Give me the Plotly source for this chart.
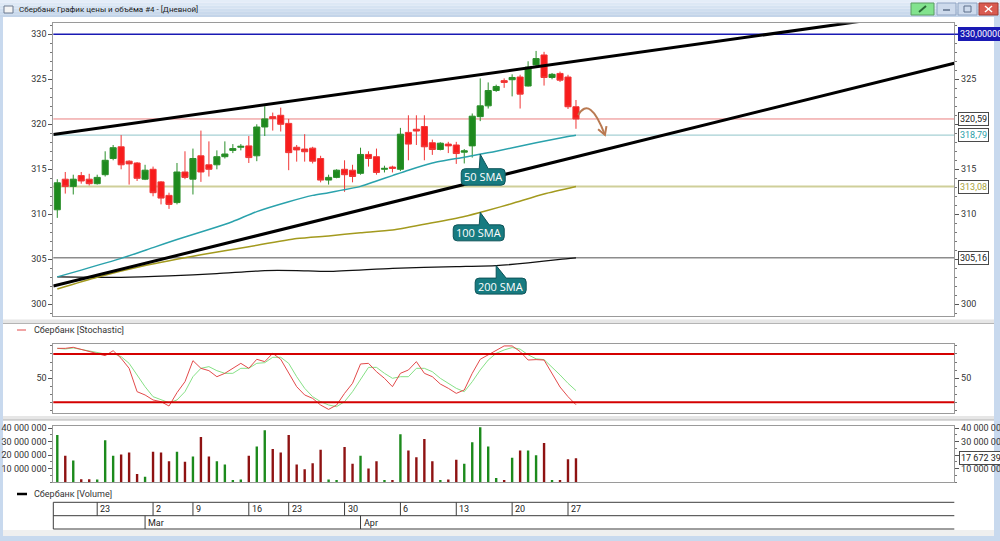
import plotly.graph_objects as go
import numpy as np

W, H = 1000, 541

# ---------------- data ----------------
bar_index = list(range(66))
opens = [310.5, 313.9, 313.1, 314.3, 313.9, 313.4, 314.4, 316.2, 317.5, 315.9,
         315.7, 313.9, 315.0, 313.6, 312.1, 311.3, 314.7, 313.9, 316.5, 315.5,
         315.5, 316.4, 317.1, 317.45, 317.6, 316.5, 319.7, 320.85, 321.0, 320.1,
         317.45, 317.25, 317.35, 316.2, 313.8, 314.1, 315.0, 314.9, 314.55, 316.65,
         316.4, 315.0, 315.25, 315.0, 319.1, 319.45, 319.75, 317.95, 317.2, 317.8,
         317.7, 316.9, 317.6, 320.85, 322.05, 323.75, 324.85, 324.95, 325.25, 324.25,
         326.6, 327.7, 325.2, 325.65, 325.25, 321.95]
highs = [313.9, 314.7, 314.4, 314.7, 314.5, 314.4, 317.0, 317.7, 318.8, 316.0,
         315.8, 315.5, 315.3, 313.7, 312.4, 315.7, 317.0, 317.3, 319.3, 318.1,
         317.1, 318.1, 317.8, 317.8, 318.7, 320.0, 322.0, 321.3, 321.85, 320.6,
         317.7, 318.9, 317.5, 316.5, 314.4, 315.0, 316.0, 315.5, 317.4, 317.0,
         317.3, 315.4, 315.4, 319.6, 321.0, 321.0, 321.0, 318.3, 318.0, 318.05,
         318.05, 317.25, 321.2, 325.1, 324.65, 324.4, 325.1, 325.55, 325.5, 327.0,
         328.15, 328.05, 325.7, 325.85, 325.5, 322.7]
lows = [309.6, 312.3, 312.2, 313.4, 313.2, 313.3, 314.2, 316.0, 315.0, 313.3,
        313.7, 313.8, 312.0, 311.1, 310.6, 311.1, 313.9, 312.2, 313.6, 314.2,
        315.0, 316.2, 316.8, 317.1, 315.7, 315.9, 318.7, 319.3, 319.2, 314.9,
        315.85, 315.85, 315.65, 313.55, 313.3, 314.0, 312.5, 313.55, 314.4, 315.3,
        314.4, 314.65, 314.65, 314.8, 316.0, 317.7, 316.0, 316.6, 317.1, 316.8,
        315.6, 315.65, 316.3, 320.35, 321.75, 323.6, 324.05, 323.1, 321.75, 324.2,
        326.35, 324.3, 325.0, 324.7, 321.7, 319.5]
closes = [313.5, 313.1, 313.9, 313.7, 313.4, 314.1, 316.0, 317.4, 315.5, 315.6,
          314.0, 314.9, 312.4, 311.8, 311.1, 314.7, 314.1, 316.2, 314.7, 315.0,
          316.4, 316.7, 317.3, 317.55, 316.3, 319.7, 320.6, 320.65, 320.0, 316.85,
          317.15, 316.95, 315.9, 313.8, 314.1, 314.9, 314.4, 314.2, 316.65, 316.2,
          314.65, 315.1, 315.1, 318.9, 317.8, 319.25, 317.5, 317.2, 317.9, 317.6,
          316.75, 317.05, 320.9, 322.05, 323.75, 324.2, 324.65, 325.2, 323.35, 326.35,
          327.3, 325.2, 325.55, 324.9, 321.95, 320.59]
volumes_mln = [35, 19.5, 16, 2, 2, 1.8, 31, 19.5, 20.5, 22,
               6, 4, 22.5, 22, 15.5, 22.5, 15, 19, 33.5, 19,
               15.5, 13, 1.5, 1.8, 19.5, 26.5, 38.5, 24.5, 22, 35,
               13, 9.5, 14, 24, 1.8, 1.5, 26, 13.5, 19.5, 10,
               15.5, 1.5, 1.5, 35.5, 23.5, 18.5, 32, 15.5, 1.5, 1.8,
               16.5, 13.5, 29.5, 40.8, 26.5, 3, 1.5, 18, 23.5, 23.5,
               20, 29, 1.5, 1.5, 17, 17.67239]
stoch_k = [87, 87, 88.3, 85.8, 83, 80.8, 77.9, 84.1, 74.6, 62.2,
           33.2, 29.1, 22.9, 20.8, 15.4, 32, 45.6, 71.7, 62.2, 59.3,
           51.8, 56, 62.2, 68.4, 62.2, 73.4, 70.5, 80.8, 73.4, 56,
           39.4, 29.1, 24.9, 16.6, 11.2, 16.6, 31.1, 43.6, 67.6, 68.4,
           58, 49.8, 39.4, 56, 60.1, 70.5, 56, 51.8, 42.7, 37.4,
           31.1, 35.3, 56, 73.4, 78.8, 85, 90, 90, 83, 72.5,
           73, 72.5, 56, 39, 27, 17]
stoch_d = [87, 86.2, 87.5, 85.8, 84.1, 81.7, 80, 80.8, 76.7, 68.4,
           53.9, 39.4, 27, 23.7, 19.5, 22.9, 33.2, 51.8, 62.2, 64.3,
           59.3, 56, 56, 62.2, 62.2, 68.4, 69.2, 75.9, 75.9, 68.4,
           51.8, 37.4, 27, 20.8, 16.7, 14.6, 20.8, 33.2, 48.5, 63.4,
           63.4, 56, 49.8, 51.8, 51.8, 62.2, 62.2, 58, 49.8, 43.6,
           37.4, 33.2, 45.6, 60.1, 72.5, 80.8, 85, 88, 86, 79,
           74, 73, 64, 54, 43.6, 34.5]

sma50_idx = [0, 3, 8, 12, 15, 19, 22, 25, 29, 32, 34, 38, 40, 42, 44, 47, 51, 55, 60, 64, 65]
sma50_val = [303.05, 303.8, 305.1, 306.3, 307.2, 308.3, 309.2, 310.3, 311.4, 312.1, 312.4,
             313.1, 313.7, 314.3, 314.9, 315.7, 316.35, 317.0, 317.95, 318.65, 318.79]
sma100_idx = [0, 5, 11, 18, 24, 30, 34, 38, 42, 47, 51, 54, 57, 61, 65]
sma100_val = [301.7, 303.0, 304.3, 305.5, 306.4, 307.3, 307.6, 307.95, 308.25, 309.05,
              309.75, 310.45, 311.2, 312.25, 313.08]
sma200_idx = [0, 8, 14, 20, 26, 30, 34, 42, 50, 55, 59, 63, 65]
sma200_val = [303.05, 303.0, 303.15, 303.4, 303.75, 303.75, 303.65, 304.0, 304.18,
              304.3, 304.6, 305.0, 305.16]

channel_upper_x = [-0.5, 112.4]
channel_upper_y = [318.87, 332.9]
channel_lower_x = [-0.5, 112.4]
channel_lower_y = [302.03, 326.78]

arrow_path_x = [65.27, 66.75, 68.63]      # start, control, end
arrow_path_y = [321.02, 323.26, 318.81]
arrow_head_x = [67.77, 68.63, 68.82]
arrow_head_y = [319.44, 318.81, 319.8]

level_values = [330.0, 320.59, 318.79, 313.08, 305.16]
level_labels = ["330,00000", "320,59", "318,79", "313,08", "305,16"]
level_line_colors = ["#1a1ab4", "#ea7f7f", "#a6d0d4", "#cfcf9a", "#8c8c8c"]
level_line_widths = [1.5, 1, 1.2, 2, 1.5]
level_text_colors = ["white", "#202020", "#2a9ea8", "#a8a23a", "#202020"]
level_bg_colors = ["#1a1ab4", "white", "white", "white", "white"]

stoch_levels = [80, 20]
price_ticks = [300, 305, 310, 315, 320, 325, 330]
price_tick_text = ["300", "305", "310", "315", "320", "325", "330"]
price_right_tick_text = ["300", "", "310", "315", "", "325", ""]   # others hidden behind value boxes
stoch_ticks = [50]
volume_ticks = [10e6, 20e6, 30e6, 40e6]
volume_tick_text = ["10 000 000", "20 000 000", "30 000 000", "40 000 000"]
volume_right_tick_text = ["10 000 000", "", "30 000 000", "40 000 000"]
day_tick_idx = [5, 12, 17, 24, 29, 36, 43, 50, 57, 64]
day_tick_text = ["23", "2", "9", "16", "23", "30", "6", "13", "20", "27"]
month_tick_idx = [11, 38]
month_tick_text = ["Mar", "Apr"]
last_volume_label = "17 672 390"

sma_callouts = [  # label, anchor index, which SMA
    ("50 SMA", 53, "50"),
    ("100 SMA", 53, "100"),
    ("200 SMA", 55, "200"),
]

# ---------------- helpers ----------------
def px_x(x):
    return x / W


def px_y(y):
    return 1 - y / H


FONT = "Roboto"
X_DOM = [px_x(53.3), px_x(954.3)]
X_RANGE = [-0.5, 112.41]
P_DOM = [px_y(316), px_y(23.3)]
S_DOM = [px_y(412.7), px_y(344)]
V_DOM = [px_y(482), px_y(425.7)]
P_RANGE = [298.7, 331.22]
S_RANGE = [7.1, 92.4]
V_RANGE = [0, 41.9e6]

volumes = [v * 1e6 for v in volumes_mln]
up = [c >= o for o, c in zip(opens, closes)]
vol_colors = ["#1c8a1c" if u else "#8e1212" for u in up]

fig = go.Figure()

# candles
fig.add_trace(go.Candlestick(
    x=bar_index, open=opens, high=highs, low=lows, close=closes,
    increasing=dict(line=dict(color="#2a8f2a", width=1), fillcolor="#1e8a1e"),
    decreasing=dict(line=dict(color="#f03636", width=1), fillcolor="#f81c1c"),
    whiskerwidth=0, hoverinfo="skip", showlegend=False, xaxis="x", yaxis="y"))

# SMAs
fig.add_trace(go.Scatter(x=sma200_idx, y=sma200_val, mode="lines",
                         line=dict(color="#111111", width=1.3, shape="spline", smoothing=0.6),
                         hoverinfo="skip", showlegend=False))
fig.add_trace(go.Scatter(x=sma100_idx, y=sma100_val, mode="lines",
                         line=dict(color="#a39a1e", width=1.5, shape="spline", smoothing=0.6),
                         hoverinfo="skip", showlegend=False))
fig.add_trace(go.Scatter(x=sma50_idx, y=sma50_val, mode="lines",
                         line=dict(color="#2aa2ac", width=1.5, shape="spline", smoothing=0.6),
                         hoverinfo="skip", showlegend=False))

# channel lines
for cx, cy in ((channel_upper_x, channel_upper_y), (channel_lower_x, channel_lower_y)):
    fig.add_trace(go.Scatter(x=cx, y=cy, mode="lines", line=dict(color="black", width=3),
                             hoverinfo="skip", showlegend=False))

# stochastic
fig.add_trace(go.Scatter(x=bar_index, y=stoch_d, mode="lines", line=dict(color="#86e086", width=1),
                         xaxis="x2", yaxis="y2", hoverinfo="skip", showlegend=False))
fig.add_trace(go.Scatter(x=bar_index, y=stoch_k, mode="lines", line=dict(color="#e24a4a", width=1),
                         xaxis="x2", yaxis="y2", hoverinfo="skip", showlegend=False))

# volume
fig.add_trace(go.Bar(x=bar_index, y=volumes, marker=dict(color=vol_colors, line=dict(width=0)),
                     width=0.3, xaxis="x3", yaxis="y3", hoverinfo="skip", showlegend=False))

# invisible traces for right-hand axes
for xa, ya, yv in (("x", "y4", price_ticks[0]), ("x2", "y5", stoch_ticks[0]), ("x3", "y6", volume_ticks[0])):
    fig.add_trace(go.Scatter(x=[0], y=[yv], mode="markers", marker=dict(opacity=0, size=1),
                             xaxis=xa, yaxis=ya, hoverinfo="skip", showlegend=False))

shapes = []
annotations = []

# ---- window chrome ----
grad = ["#e4edf8", "#dde8f5", "#d6e3f2", "#cfdeef", "#c9d9ec", "#c3d4e9"]
step = 17 / len(grad)
for i, c in enumerate(grad):
    shapes.append(dict(type="rect", xref="paper", yref="paper", x0=0, x1=1,
                       y0=px_y(step * (i + 1)), y1=px_y(step * i), fillcolor=c, line=dict(width=0), layer="below"))
shapes.append(dict(type="rect", xref="paper", yref="paper", x0=0, x1=px_x(3), y0=0, y1=px_y(17),
                   fillcolor="#c8d9ee", line=dict(width=0), layer="below"))
shapes.append(dict(type="rect", xref="paper", yref="paper", x0=px_x(994), x1=1, y0=0, y1=px_y(17),
                   fillcolor="#c8d9ee", line=dict(width=0), layer="below"))
shapes.append(dict(type="rect", xref="paper", yref="paper", x0=0, x1=1, y0=0, y1=px_y(536),
                   fillcolor="#c8d9ee", line=dict(width=0), layer="below"))
shapes.append(dict(type="rect", xref="paper", yref="paper", x0=px_x(3), x1=px_x(994), y0=px_y(536), y1=px_y(530),
                   fillcolor="#efefef", line=dict(width=0), layer="below"))
for ys in (319.5, 416):
    shapes.append(dict(type="rect", xref="paper", yref="paper", x0=px_x(3), x1=px_x(994),
                       y0=px_y(ys + 4), y1=px_y(ys), fillcolor="#e6e6e6", line=dict(width=0), layer="below"))
    shapes.append(dict(type="line", xref="paper", yref="paper", x0=px_x(3), x1=px_x(994),
                       y0=px_y(ys + 4), y1=px_y(ys + 4), line=dict(color="#b4b4b4", width=1), layer="below"))
# title icon and buttons
shapes.append(dict(type="rect", xref="paper", yref="paper", x0=px_x(4), x1=px_x(13), y0=px_y(13), y1=px_y(6),
                   fillcolor="#f4f4f4", line=dict(color="#6c7a90", width=1)))
buttons = [(911, 934, "#82e38e", "#5b9c63"), (937, 956, "#cddaec", "#8ea3c2"),
           (958, 977, "#cddaec", "#8ea3c2"), (979, 998, "#d95a50", "#9e3b32")]
for bx0, bx1, fc, lc in buttons:
    shapes.append(dict(type="rect", xref="paper", yref="paper", x0=px_x(bx0), x1=px_x(bx1),
                       y0=px_y(15), y1=px_y(3), fillcolor=fc, line=dict(color=lc, width=1)))
shapes.append(dict(type="line", xref="paper", yref="paper", x0=px_x(943), x1=px_x(950), y0=px_y(10), y1=px_y(10),
                   line=dict(color="#5d6f8a", width=1.5)))
shapes.append(dict(type="rect", xref="paper", yref="paper", x0=px_x(964), x1=px_x(971), y0=px_y(12), y1=px_y(6),
                   line=dict(color="#5d6f8a", width=1)))
shapes.append(dict(type="line", xref="paper", yref="paper", x0=px_x(985), x1=px_x(992), y0=px_y(12), y1=px_y(6),
                   line=dict(color="white", width=1.5)))
shapes.append(dict(type="line", xref="paper", yref="paper", x0=px_x(985), x1=px_x(992), y0=px_y(6), y1=px_y(12),
                   line=dict(color="white", width=1.5)))
shapes.append(dict(type="line", xref="paper", yref="paper", x0=px_x(919), x1=px_x(926), y0=px_y(12), y1=px_y(6),
                   line=dict(color="#2a6a36", width=2)))
annotations.append(dict(xref="paper", yref="paper", x=px_x(17), y=px_y(9.5), xanchor="left", yanchor="middle",
                        text="Сбербанк График цены и объёма #4 - [Дневной]", showarrow=False,
                        font=dict(family=FONT, size=8, color="#1a1a1a")))

# ---- price level lines ----
for val, lab, lc, lw, tc, bg in zip(level_values, level_labels, level_line_colors, level_line_widths,
                                    level_text_colors, level_bg_colors):
    shapes.append(dict(type="line", xref="x domain", yref="y", x0=0, x1=1, y0=val, y1=val,
                       line=dict(color=lc, width=lw), layer="below"))
    annotations.append(dict(xref="paper", yref="y", x=px_x(957.5), y=val, xanchor="left", yanchor="middle",
                            text=lab, showarrow=False, bgcolor=bg,
                            bordercolor=("#1a1ab4" if bg != "white" else "#4a4a4a"), borderwidth=1, borderpad=1,
                            font=dict(family=FONT, size=9, color=tc)))
shapes.append(dict(type="line", xref="paper", yref="y", x0=X_DOM[1], x1=px_x(958), y0=level_values[0],
                   y1=level_values[0], line=dict(color=level_line_colors[0], width=1.5)))

# ---- stochastic levels ----
for lv in stoch_levels:
    shapes.append(dict(type="line", xref="x2 domain", yref="y2", x0=0, x1=1, y0=lv, y1=lv,
                       line=dict(color="#d40000", width=2)))

# ---- brown arrow ----
shapes.append(dict(type="path", xref="x", yref="y",
                   path=f"M {arrow_path_x[0]},{arrow_path_y[0]} Q {arrow_path_x[1]},{arrow_path_y[1]} "
                        f"{arrow_path_x[2]},{arrow_path_y[2]}",
                   line=dict(color="#b97a52", width=2)))
shapes.append(dict(type="path", xref="x", yref="y",
                   path=f"M {arrow_head_x[0]},{arrow_head_y[0]} L {arrow_head_x[1]},{arrow_head_y[1]} "
                        f"L {arrow_head_x[2]},{arrow_head_y[2]}",
                   line=dict(color="#b97a52", width=2)))

# ---- SMA callouts ----
sma_lookup = {"50": (sma50_idx, sma50_val), "100": (sma100_idx, sma100_val), "200": (sma200_idx, sma200_val)}
callout_geom = {  # left, right, top, bottom, wedge-left, wedge-right (pixels from tip, y up)
    "50": (-19, 25, -14.5, -31, -1, 8),
    "100": (-27, 24, -12.5, -28.5, -1, 9),
    "200": (-21, 30, -12.5, -28.5, 0, 10),
}


def callout_path(l, r, t, b, wl, wr, rad=4):
    return (f"M {wl},{t} L 0,0 L {wr},{t} L {r - rad},{t} Q {r},{t} {r},{t - rad} "
            f"L {r},{b + rad} Q {r},{b} {r - rad},{b} L {l + rad},{b} Q {l},{b} {l},{b + rad} "
            f"L {l},{t - rad} Q {l},{t} {l + rad},{t} Z")


for text, aidx, key in sma_callouts:
    sx, sv = sma_lookup[key]
    ay = float(np.interp(aidx, sx, sv))
    l, r, t, b, wl, wr = callout_geom[key]
    shapes.append(dict(type="path", xref="x", yref="y", xsizemode="pixel", ysizemode="pixel",
                       xanchor=aidx, yanchor=ay, path=callout_path(l, r, t, b, wl, wr),
                       fillcolor="#177b80", line=dict(color="#0d5358", width=1), layer="above"))
    annotations.append(dict(xref="x", yref="y", x=aidx, y=ay, xshift=(l + r) / 2, yshift=(t + b) / 2,
                            text=text, showarrow=False, xanchor="center", yanchor="middle",
                            font=dict(family="Open Sans", size=11, color="white")))

# ---- panel legends ----
shapes.append(dict(type="line", xref="paper", yref="paper", x0=px_x(17), x1=px_x(26), y0=px_y(330), y1=px_y(330),
                   line=dict(color="#e24a4a", width=1)))
annotations.append(dict(xref="paper", yref="paper", x=px_x(32), y=px_y(330), xanchor="left", yanchor="middle",
                        text="Сбербанк [Stochastic]", showarrow=False, font=dict(family=FONT, size=9, color="#333")))
shapes.append(dict(type="line", xref="paper", yref="paper", x0=px_x(17), x1=px_x(27), y0=px_y(494), y1=px_y(494),
                   line=dict(color="black", width=2.5)))
annotations.append(dict(xref="paper", yref="paper", x=px_x(32), y=px_y(494), xanchor="left", yanchor="middle",
                        text="Сбербанк [Volume]", showarrow=False, font=dict(family=FONT, size=9, color="#333")))

# last volume label
annotations.append(dict(xref="paper", yref="y3", x=px_x(958.5), y=volumes[-1], xanchor="left", yanchor="middle",
                        text=last_volume_label, showarrow=False, bgcolor="white", bordercolor="#4a4a4a",
                        borderwidth=1, borderpad=1, font=dict(family=FONT, size=9, color="#202020")))

# ---- date axis boxes ----
for yy in (502.3, 515.7, 529):
    shapes.append(dict(type="line", xref="paper", yref="paper", x0=X_DOM[0], x1=X_DOM[1], y0=px_y(yy), y1=px_y(yy),
                       line=dict(color="#3c3c3c", width=1)))
shapes.append(dict(type="line", xref="paper", yref="paper", x0=X_DOM[0], x1=X_DOM[0], y0=px_y(529), y1=px_y(502.3),
                   line=dict(color="#3c3c3c", width=1)))
for di, dt in zip(day_tick_idx, day_tick_text):
    shapes.append(dict(type="line", xref="x", yref="paper", x0=di, x1=di, y0=px_y(515.7), y1=px_y(502.3),
                       line=dict(color="#3c3c3c", width=1)))
    annotations.append(dict(xref="x", yref="paper", x=di, y=px_y(509), xanchor="left", yanchor="middle",
                            xshift=1, text=dt, showarrow=False, font=dict(family=FONT, size=9, color="#222")))
for mi, mt in zip(month_tick_idx, month_tick_text):
    shapes.append(dict(type="line", xref="x", yref="paper", x0=mi, x1=mi, y0=px_y(529), y1=px_y(515.7),
                       line=dict(color="#3c3c3c", width=1)))
    annotations.append(dict(xref="x", yref="paper", x=mi, y=px_y(522.5), xanchor="left", yanchor="middle",
                            xshift=1, text=mt, showarrow=False, font=dict(family=FONT, size=9, color="#222")))

tickfont = dict(family=FONT, size=9, color="#333")
frame = dict(showline=True, linecolor="#9a9a9a", linewidth=1, mirror=True, showgrid=False, zeroline=False)


def xax(anchor):
    return dict(domain=X_DOM, range=X_RANGE, anchor=anchor, showticklabels=False, ticks="",
                fixedrange=True, **frame)


def yleft(dom, rng, tickvals, ticktext, minor_dtick):
    return dict(domain=dom, range=rng, side="left", ticks="outside", ticklen=4, tickcolor="#555",
                tickvals=tickvals, ticktext=ticktext, tickfont=tickfont,
                minor=dict(dtick=minor_dtick, ticklen=2, tickcolor="#777", ticks="outside"),
                fixedrange=True, **frame)


def yright(over, rng, tickvals, ticktext, minor_dtick):
    return dict(overlaying=over, range=rng, side="right", ticks="outside", ticklen=4, tickcolor="#555",
                tickvals=tickvals, ticktext=ticktext, tickfont=tickfont,
                minor=dict(dtick=minor_dtick, ticklen=2, tickcolor="#777", ticks="outside"),
                showgrid=False, zeroline=False, showline=False, fixedrange=True)


stoch_tick_text = [str(v) for v in stoch_ticks]

fig.update_layout(
    width=W, height=H, margin=dict(l=0, r=0, t=0, b=0, autoexpand=False),
    paper_bgcolor="white", plot_bgcolor="rgba(0,0,0,0)",
    separators=", ", showlegend=False, boxgap=0.15, boxgroupgap=0.1,
    xaxis=dict(rangeslider=dict(visible=False), **xax("y")),
    xaxis2=xax("y2"),
    xaxis3=xax("y3"),
    yaxis=yleft(P_DOM, P_RANGE, price_ticks, price_tick_text, 1),
    yaxis2=yleft(S_DOM, S_RANGE, stoch_ticks, stoch_tick_text, 10),
    yaxis3=yleft(V_DOM, V_RANGE, volume_ticks, volume_tick_text, 5e6),
    yaxis4=dict(yright("y", P_RANGE, price_ticks, price_right_tick_text, 1), anchor="x"),
    yaxis5=dict(yright("y2", S_RANGE, stoch_ticks, stoch_tick_text, 10), anchor="x2"),
    yaxis6=dict(yright("y3", V_RANGE, volume_ticks, volume_right_tick_text, 5e6), anchor="x3"),
    shapes=shapes, annotations=annotations,
    font=dict(family=FONT),
)

fig.write_html("out.html", config={"displayModeBar": False},
               post_script="document.body.style.margin='0';document.body.style.overflow='hidden';")
